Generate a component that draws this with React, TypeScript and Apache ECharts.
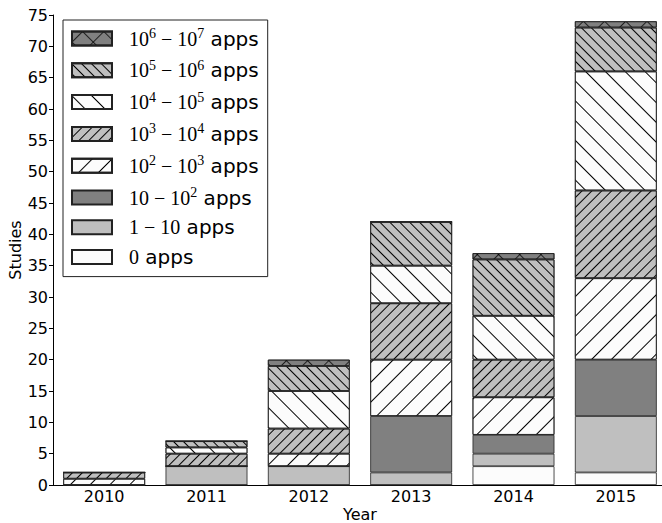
import React, { useEffect, useRef } from 'react';
import * as echarts from 'echarts';

const years = ['2010', '2011', '2012', '2013', '2014', '2015'];
const apps0 = [0, 0, 0, 0, 3, 2];
const apps1to10 = [0, 3, 3, 2, 2, 9];
const apps10to1e2 = [0, 0, 0, 9, 3, 9];
const apps1e2to1e3 = [1, 0, 2, 9, 6, 13];
const apps1e3to1e4 = [1, 2, 4, 9, 6, 14];
const apps1e4to1e5 = [0, 1, 6, 6, 7, 19];
const apps1e5to1e6 = [0, 1, 4, 7, 9, 7];
const apps1e6to1e7 = [0, 0, 1, 0, 1, 1];

const seriesNames = [
  '0 apps',
  '1-10 apps',
  '10-10^2 apps',
  '10^2-10^3 apps',
  '10^3-10^4 apps',
  '10^4-10^5 apps',
  '10^5-10^6 apps',
  '10^6-10^7 apps',
];
const legendRich: Record<string, string> = {
  '0 apps': '{g| }{m|0}{a| apps}',
  '1-10 apps': '{g| }{m|1 − 10}{a| apps}',
  '10-10^2 apps': '{g| }{m|10 − 10}{s|2}{a| apps}',
  '10^2-10^3 apps': '{g| }{m|10}{s|2}{m| − 10}{s|3}{a| apps}',
  '10^3-10^4 apps': '{g| }{m|10}{s|3}{m| − 10}{s|4}{a| apps}',
  '10^4-10^5 apps': '{g| }{m|10}{s|4}{m| − 10}{s|5}{a| apps}',
  '10^5-10^6 apps': '{g| }{m|10}{s|5}{m| − 10}{s|6}{a| apps}',
  '10^6-10^7 apps': '{g| }{m|10}{s|6}{m| − 10}{s|7}{a| apps}',
};
const seriesData = [
  apps0,
  apps1to10,
  apps10to1e2,
  apps1e2to1e3,
  apps1e3to1e4,
  apps1e4to1e5,
  apps1e5to1e6,
  apps1e6to1e7,
];

const WHITE = '#fcfcfc';
const LIGHT = '#bfbfbf';
const DARK = '#808080';

const hatch = (period: number, rot: number) => ({
  symbol: 'rect',
  symbolSize: 1,
  dashArrayX: [1, 0],
  dashArrayY: [1, period - 1],
  rotation: rot,
  color: '#000',
});
const crossDecal = {
  symbol: 'path://M0,9.5L20,9.5L20,10.5L0,10.5Z M9.5,0L10.5,0L10.5,20L9.5,20Z',
  symbolSize: 1,
  dashArrayX: [15, 0],
  dashArrayY: [15, 0],
  rotation: Math.PI / 4,
  color: '#000',
};

const fills = [WHITE, LIGHT, DARK, WHITE, LIGHT, WHITE, LIGHT, DARK];
const decals: any[] = [
  null,
  null,
  null,
  hatch(14, -Math.PI / 4),
  hatch(7, -Math.PI / 4),
  hatch(14, Math.PI / 4),
  hatch(7, Math.PI / 4),
  crossDecal,
];

export default function App() {
  const ref = useRef<HTMLDivElement>(null);
  useEffect(() => {
    if (!ref.current) return;
    const chart = echarts.init(ref.current, null, { renderer: 'svg' });
    const series = seriesNames.map((name, i) => ({
      name,
      type: 'bar',
      stack: 'total',
      barCategoryGap: '20%',
      data: seriesData[i],
      itemStyle: {
        color: fills[i],
        borderColor: '#222',
        borderWidth: 0.8,
        ...(decals[i] ? { decal: decals[i] } : {}),
      },
    }));
    chart.setOption({
      animation: false,
      textStyle: { fontFamily: 'DejaVu Sans', color: '#000' },
      grid: { left: 53, top: 15, width: 614, height: 470, outerBoundsMode: 'none', containLabel: false },
      legend: {
        orient: 'vertical',
        left: 63,
        top: 20,
        padding: [6.5, 9, 9.5, 8],
        itemWidth: 40,
        itemHeight: 14,
        itemGap: 9.8,
        icon: 'rect',
        borderColor: '#222',
        borderWidth: 1,
        backgroundColor: '#fff',
        data: [...seriesNames].reverse(),
        formatter: (name: string) => legendRich[name],
        textStyle: {
          rich: {
            g: { width: 12, fontSize: 20, lineHeight: 24 },
            m: { fontFamily: 'Liberation Serif', fontSize: 20, lineHeight: 24, color: '#000' },
            s: { fontFamily: 'Liberation Serif', fontSize: 14, lineHeight: 14, verticalAlign: 'top', color: '#000' },
            a: { fontFamily: 'DejaVu Sans', fontSize: 20, lineHeight: 24, color: '#000' },
          },
        },
      },
      xAxis: {
        type: 'category',
        data: years,
        name: 'Year',
        nameLocation: 'middle',
        nameGap: 21,
        nameMoveOverlap: false,
        nameTextStyle: { fontSize: 16, color: '#000', lineHeight: 16 },
        axisLine: { lineStyle: { color: '#000', width: 1 } },
        axisTick: { show: false },
        axisLabel: { fontSize: 16, color: '#000', margin: 3 },
      },
      yAxis: {
        type: 'value',
        min: 0,
        max: 75,
        interval: 5,
        name: 'Studies',
        nameLocation: 'middle',
        nameGap: 30,
        nameMoveOverlap: false,
        nameTextStyle: { fontSize: 16, color: '#000' },
        axisLine: { show: true, lineStyle: { color: '#000', width: 1 } },
        axisTick: { show: true, length: 4, lineStyle: { color: '#000' } },
        axisLabel: { fontSize: 16, color: '#000', margin: 5 },
        splitLine: { show: false },
      },
      series,
    });
    return () => chart.dispose();
  }, []);
  return (
    <div
      ref={ref}
      style={{ position: 'fixed', left: 0, top: 0, width: 662, height: 523, background: '#fff' }}
    />
  );
}
